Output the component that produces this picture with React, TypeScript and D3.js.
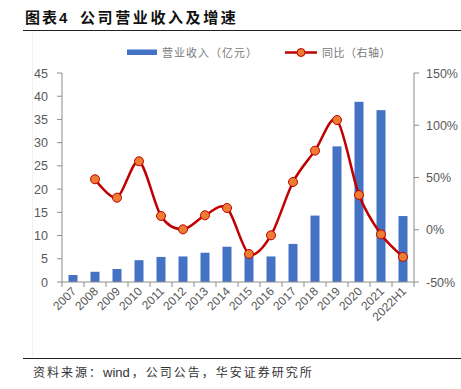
import React from "react";
import * as d3 from "d3";

const categories = ["2007","2008","2009","2010","2011","2012","2013","2014","2015","2016","2017","2018","2019","2020","2021","2022H1"];
const revenue = [1.5, 2.2, 2.8, 4.7, 5.4, 5.5, 6.3, 7.6, 5.8, 5.5, 8.2, 14.3, 29.2, 38.8, 37.0, 14.2];
const growth: (number | null)[] = [null, 48.3, 30.7, 65.5, 13.2, 0.4, 13.8, 20.8, -23.2, -5.3, 45.7, 75.7, 105, 33.3, -4.4, -26];
const leftTicks = [0, 5, 10, 15, 20, 25, 30, 35, 40, 45];
const rightTicks = [-50, 0, 50, 100, 150];

const W = 461, H = 389;
const x0 = 62, x1 = 414, yTop = 73, yBot = 282;
const font = "'Liberation Sans', Arial, 'Noto Sans CJK SC', sans-serif";
const cjk = "'Noto Sans CJK SC', sans-serif";
const axisColor = "#8c8c8c";
const textColor = "#595959";

export default function App() {
  const x = d3.scaleBand().domain(categories).range([x0, x1]).padding(0);
  const yL = d3.scaleLinear().domain([0, 45]).range([yBot, yTop]);
  const yR = d3.scaleLinear().domain([-50, 150]).range([yBot, yTop]);
  const barW = 9;
  const pts = categories
    .map((c, i) => ({ c, v: growth[i] }))
    .filter((d) => d.v !== null) as { c: string; v: number }[];
  const line = d3
    .line<{ c: string; v: number }>()
    .x((d) => (x(d.c) as number) + x.bandwidth() / 2)
    .y((d) => yR(d.v))
    .curve(d3.curveCardinal.tension(0.1));

  return (
    <svg width={W} height={H} style={{ position: "absolute", left: 0, top: 0, background: "#fff" }}>
      <text x={25} y={23} fontFamily={cjk} fontSize={15} fontWeight="bold" fill="#111" letterSpacing={2}>
        图表<tspan fontFamily={font}>4</tspan>
      </text>
      <text x={80} y={23} fontFamily={cjk} fontSize={15} fontWeight="bold" fill="#111" letterSpacing={2.6}>
        公司营业收入及增速
      </text>
      <line x1={23} x2={461} y1={30.5} y2={30.5} stroke="#222" strokeWidth={1} />
      <line x1={32.5} x2={32.5} y1={31} y2={357} stroke="#f0f0f0" strokeWidth={1} />

      {/* legend */}
      <rect x={127} y={49.5} width={30} height={5.5} fill="#4472C4" />
      <text x={162} y={56.5} fontFamily={cjk} fontSize={11} fill="#7a7a7a" letterSpacing={1}>营业收入（亿元）</text>
      <line x1={285} x2={317} y1={52.5} y2={52.5} stroke="#C00000" strokeWidth={2.5} />
      <circle cx={301} cy={52.5} r={4} fill="#ED7D31" stroke="#C00000" strokeWidth={1} />
      <text x={322} y={56.5} fontFamily={cjk} fontSize={11} fill="#7a7a7a" letterSpacing={0.5}>同比（右轴）</text>

      {/* bars */}
      {categories.map((c, i) => (
        <rect
          key={c}
          x={(x(c) as number) + x.bandwidth() / 2 - barW / 2}
          y={yL(revenue[i])}
          width={barW}
          height={yBot - yL(revenue[i])}
          fill="#4472C4"
        />
      ))}

      {/* left axis */}
      <line x1={x0} x2={x0} y1={yTop} y2={yBot} stroke={axisColor} />
      {leftTicks.map((t) => (
        <g key={t}>
          <line x1={x0 - 5} x2={x0} y1={yL(t)} y2={yL(t)} stroke={axisColor} />
          <text x={48} y={yL(t) + 4.5} textAnchor="end" fontFamily={font} fontSize={12.5} fill={textColor}>
            {t}
          </text>
        </g>
      ))}

      {/* right axis */}
      <line x1={x1} x2={x1} y1={yTop} y2={yBot} stroke={axisColor} />
      {rightTicks.map((t) => (
        <g key={t}>
          <line x1={x1} x2={x1 + 5} y1={yR(t)} y2={yR(t)} stroke={axisColor} />
          <text x={426} y={yR(t) + 4.5} fontFamily={font} fontSize={12.5} fill={textColor}>
            {t}%
          </text>
        </g>
      ))}

      {/* x axis */}
      <line x1={x0} x2={x1} y1={yBot} y2={yBot} stroke={axisColor} />
      {categories.map((c) => (
        <line key={"t" + c} x1={(x(c) as number)} x2={(x(c) as number)} y1={yBot} y2={yBot + 5} stroke={axisColor} />
      ))}
      <line x1={x1} x2={x1} y1={yBot} y2={yBot + 5} stroke={axisColor} />
      {categories.map((c) => {
        const cx = (x(c) as number) + x.bandwidth() / 2 + 4;
        const cy = yBot + 10;
        return (
          <text
            key={"l" + c}
            x={cx}
            y={cy}
            textAnchor="end"
            fontFamily={font}
            fontSize={12}
            fill={textColor}
            transform={`rotate(-45 ${cx} ${cy})`}
          >
            {c}
          </text>
        );
      })}

      {/* growth line */}
      <path d={line(pts) || ""} fill="none" stroke="#C00000" strokeWidth={2.5} />
      {pts.map((d) => (
        <circle
          key={"p" + d.c}
          cx={(x(d.c) as number) + x.bandwidth() / 2}
          cy={yR(d.v)}
          r={4.5}
          fill="#ED7D31"
          stroke="#C00000"
          strokeWidth={1}
        />
      ))}

      <line x1={23} x2={461} y1={358.5} y2={358.5} stroke="#222" strokeWidth={1} />
      <text x={33} y={377} fontFamily={cjk} fontSize={12} fill="#333" letterSpacing={2}>
        资料来源：<tspan fontFamily={font} fontSize={13} letterSpacing={0}>wind</tspan><tspan dx={2}>，公司公告，华安证券研究所</tspan>
      </text>
    </svg>
  );
}
